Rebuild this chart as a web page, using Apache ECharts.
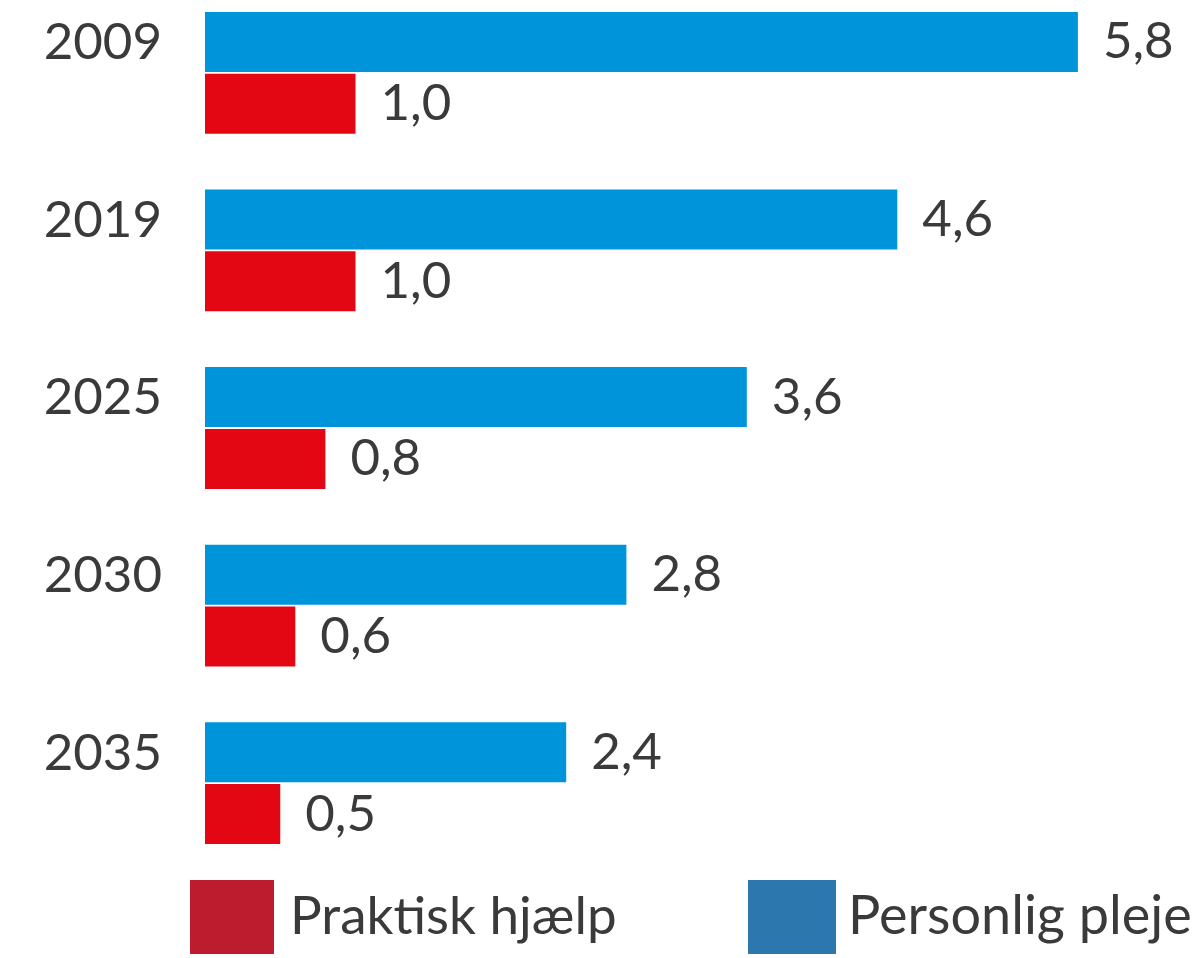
<!DOCTYPE html>
<html><head><meta charset="utf-8">
<script src="https://cdn.jsdelivr.net/npm/echarts@6/dist/echarts.min.js"></script>
<style>html,body{margin:0;padding:0;background:#fff;overflow:hidden}#c{width:1195px;height:974px;margin-top:-16px}</style>
</head><body><div id="c"></div>
<script>
const years = ['2009','2019','2025','2030','2035'];
const personligPleje = [5.8, 4.6, 3.6, 2.8, 2.4];
const praktiskHjaelp = [1.0, 1.0, 0.8, 0.6, 0.5];
const seriesNames = ['Personlig pleje', 'Praktisk hjælp'];

const chart = echarts.init(document.getElementById('c'));
const fmt = p => p.value.toFixed(1).replace('.', ',');
const font = 'Lato';
chart.setOption({
  animation: false,
  textStyle: {fontFamily: font},
  grid: {left: 205, top: 0, width: 150.5 * 6, height: 888},
  xAxis: {type: 'value', min: 0, max: 6, show: false},
  yAxis: {
    type: 'category', data: years, inverse: true,
    axisLine: {show: false}, axisTick: {show: false},
    axisLabel: {fontFamily: font, fontSize: 51, color: '#3a3a3a', margin: 43,
                verticalAlign: 'bottom', lineHeight: 60}
  },
  legend: [
    {left: 190, top: 896, padding: 0, itemWidth: 84, itemHeight: 74, itemGap: 0,
     textStyle: {fontFamily: font, fontSize: 53, color: '#3a3a3a', padding: [0,0,0,11]},
     data: [{name: seriesNames[1], icon: 'rect', itemStyle: {color: '#BC1C2E'}}]},
    {left: 748, top: 896, padding: 0, itemWidth: 88, itemHeight: 74, itemGap: 0,
     textStyle: {fontFamily: font, fontSize: 54, color: '#3a3a3a', padding: [0,0,0,7]},
     data: [{name: seriesNames[0], icon: 'rect', itemStyle: {color: '#2C77AE'}}]}
  ],
  series: [
    {name: seriesNames[0], type: 'bar', data: personligPleje, barWidth: 60, barGap: '3%',
     itemStyle: {color: '#0095DA'},
     label: {show: true, position: 'right', distance: 25, formatter: fmt, fontFamily: font, fontSize: 51, color: '#3a3a3a'}},
    {name: seriesNames[1], type: 'bar', data: praktiskHjaelp, barWidth: 60, barGap: '3%',
     itemStyle: {color: '#E30613'},
     label: {show: true, position: 'right', distance: 25, formatter: fmt, fontFamily: font, fontSize: 51, color: '#3a3a3a'}}
  ]
});
</script></body></html>
